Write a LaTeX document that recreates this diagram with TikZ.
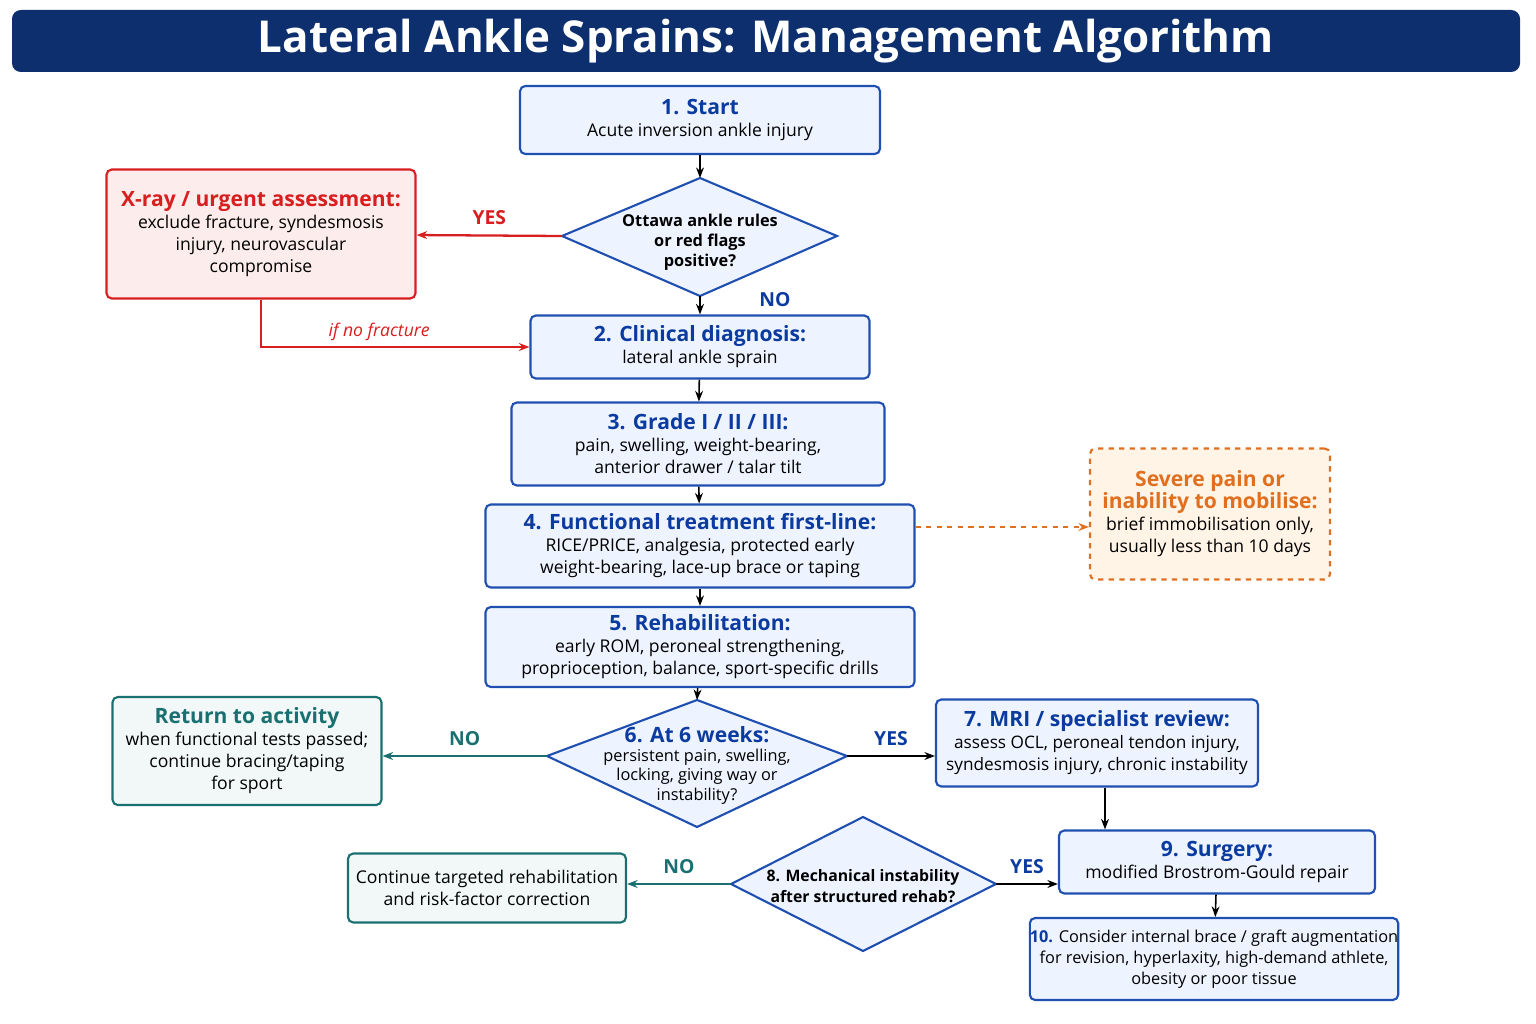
\documentclass[tikz,border=0pt]{standalone}
\usepackage{fontspec}
\setmainfont{Open Sans}
\usetikzlibrary{positioning, shapes.geometric, arrows.meta}
\definecolor{navy}{HTML}{0D2F6E}
\definecolor{bblue}{HTML}{1F4FB0}
\definecolor{tblue}{HTML}{0B3BA0}
\definecolor{bfill}{HTML}{EEF4FF}
\definecolor{rred}{HTML}{D81E1E}
\definecolor{rfill}{HTML}{FDECEC}
\definecolor{oor}{HTML}{E07020}
\definecolor{ofill}{HTML}{FFF4E6}
\definecolor{teal}{HTML}{1A7070}
\definecolor{tfill}{HTML}{F2F8F8}
\begin{document}
\begin{tikzpicture}[x=0.02cm, y=-0.02cm]
        % boxes and decisions
        \tikzstyle{stepbox}=[draw=bblue, fill=bfill, line width=1.2pt, rounded corners=3pt, align=center, inner sep=0pt, font=\fontsize{10}{12.5}\selectfont]
        \tikzstyle{dia}=[draw=bblue, fill=bfill, line width=1.2pt]
        \tikzstyle{decide}=[align=center, inner sep=0pt, font=\fontsize{9.3}{11.5}\selectfont\bfseries]
        \tikzstyle{arr}=[-{Stealth[length=6pt]}, line width=0.9pt]
        \tikzstyle{lbl}=[font=\fontsize{11}{13}\selectfont\bfseries]
        \newcommand{\hd}[1]{{\fontsize{12}{15}\selectfont\bfseries\color{tblue}#1}}

        \useasboundingbox (0,0) rectangle (1536,1024);
        \node[fill=navy, rounded corners=5pt, minimum width=1508*0.02cm, minimum height=62*0.02cm, text=white, font=\fontsize{25}{30}\selectfont\bfseries] (title) at (766,41) {Lateral Ankle Sprains: Management Algorithm};

        % diamonds drawn from their tips
        \coordinate (ottawa-n) at (700,178); \coordinate (ottawa-s) at (700,296);
        \coordinate (ottawa-w) at (562,236); \coordinate (ottawa-e) at (837,236);
        \draw[dia] (ottawa-n) -- (ottawa-e) -- (ottawa-s) -- (ottawa-w) -- cycle;
        \coordinate (six-n) at (697,700); \coordinate (six-s) at (697,827);
        \coordinate (six-w) at (547,756); \coordinate (six-e) at (847,756);
        \draw[dia] (six-n) -- (six-e) -- (six-s) -- (six-w) -- cycle;
        \coordinate (mech-n) at (863,817); \coordinate (mech-s) at (863,951);
        \coordinate (mech-w) at (731,884); \coordinate (mech-e) at (996,884);
        \draw[dia] (mech-n) -- (mech-e) -- (mech-s) -- (mech-w) -- cycle;

        \node[decide] (ottawa) at (700,242) {Ottawa ankle rules\\or red flags\\positive?};
        \node[decide, font=\fontsize{9.3}{11}\selectfont] (six) at (697,765) {\hd{6. At 6 weeks:}\\persistent pain, swelling,\\locking, giving way or\\instability?};
        \node[decide, font=\fontsize{9}{11.5}\selectfont\bfseries] (mech) at (863,886) {8. Mechanical instability\\after structured rehab?};

        \node[stepbox, minimum width=360*0.02cm, minimum height=68*0.02cm] (start) at (700,120) {\hd{1. Start}\\Acute inversion ankle injury};
        \node[stepbox, draw=rred, fill=rfill, minimum width=309*0.02cm, minimum height=129*0.02cm] (xray) at (261,234) {{\fontsize{12}{15}\selectfont\bfseries\color{rred}X-ray / urgent assessment:}\\exclude fracture, syndesmosis\\injury, neurovascular\\compromise};
        \node[stepbox, minimum width=339*0.02cm, minimum height=63*0.02cm] (diag) at (700,347) {\hd{2. Clinical diagnosis:}\\lateral ankle sprain};
        \node[stepbox, minimum width=373*0.02cm, minimum height=83*0.02cm] (grade) at (698,444) {\hd{3. Grade I / II / III:}\\pain, swelling, weight-bearing,\\anterior drawer / talar tilt};
        \node[stepbox, minimum width=429*0.02cm, minimum height=83*0.02cm] (func) at (700,546) {\hd{4. Functional treatment first-line:}\\RICE/PRICE, analgesia, protected early\\weight-bearing, lace-up brace or taping};
        \node[stepbox, draw=oor, fill=ofill, dashed, minimum width=240*0.02cm, minimum height=131*0.02cm] (severe) at (1210,514) {{\fontsize{12}{15}\selectfont\bfseries\color{oor}Severe pain or}\\{\fontsize{12}{15}\selectfont\bfseries\color{oor}inability to mobilise:}\\brief immobilisation only,\\usually less than 10 days};
        \node[stepbox, minimum width=429*0.02cm, minimum height=80*0.02cm] (rehab) at (700,647) {\hd{5. Rehabilitation:}\\early ROM, peroneal strengthening,\\proprioception, balance, sport-specific drills};
        \node[stepbox, draw=teal, fill=tfill, minimum width=269*0.02cm, minimum height=108*0.02cm] (ret) at (247,751) {{\fontsize{12}{15}\selectfont\bfseries\color{teal}Return to activity}\\when functional tests passed;\\continue bracing/taping\\for sport};
        \node[stepbox, minimum width=322*0.02cm, minimum height=87*0.02cm, font=\fontsize{9.8}{12.5}\selectfont] (mri) at (1097,743) {\hd{7. MRI / specialist review:}\\assess OCL, peroneal tendon injury,\\syndesmosis injury, chronic instability};
        \node[stepbox, draw=teal, fill=tfill, minimum width=278*0.02cm, minimum height=69*0.02cm] (cont) at (487,888) {Continue targeted rehabilitation\\and risk-factor correction};
        \node[stepbox, minimum width=316*0.02cm, minimum height=63*0.02cm] (surg) at (1217,862) {\hd{9. Surgery:}\\modified Brostrom-Gould repair};
        \node[stepbox, minimum width=368*0.02cm, minimum height=82*0.02cm, font=\fontsize{9.3}{12}\selectfont] (aug) at (1214,959) {{\bfseries\color{tblue}10.} Consider internal brace / graft augmentation\\for revision, hyperlaxity, high-demand athlete,\\obesity or poor tissue};

        % connectors
        \draw[arr] (start) -- (ottawa-n);
        \draw[arr, rred, line width=1.3pt] (ottawa-w) -- node[above=2pt, lbl] {YES} (xray);
        \draw[arr] (ottawa-s) -- node[right=30pt, pos=0.2, text=tblue, lbl] {NO} (diag);
        \draw[arr, rred] (xray.south) |- node[above, pos=0.72, font=\fontsize{10}{12}\selectfont\itshape] {if no fracture} (diag.west);
        \draw[arr] (diag) -- (grade);
        \draw[arr] (grade) -- (func);
        \draw[arr, oor, dashed, line width=1.2pt] (func.east |- 0,527) -- (severe.west |- 0,527);
        \draw[arr] (func) -- (rehab);
        \draw[arr] (rehab) -- (six-n);
        \draw[arr, teal, line width=1.2pt] (six-w) -- node[above=2pt, lbl] {NO} (ret.east |- six-w);
        \draw[arr] (six-e) -- node[above=2pt, text=tblue, lbl] {YES} (mri.west |- six-e);
        \draw[arr] (mri.south) ++(8,0) coordinate (m7) -- (m7 |- surg.north);
        \draw[arr, teal, line width=1.2pt] (mech-w) -- node[above=2pt, lbl] {NO} (cont.east |- mech-w);
        \draw[arr] (mech-e) -- node[above=2pt, text=tblue, lbl] {YES} (surg.west |- mech-e);
        \draw[arr] (surg) -- (aug);
\end{tikzpicture}
\end{document}
